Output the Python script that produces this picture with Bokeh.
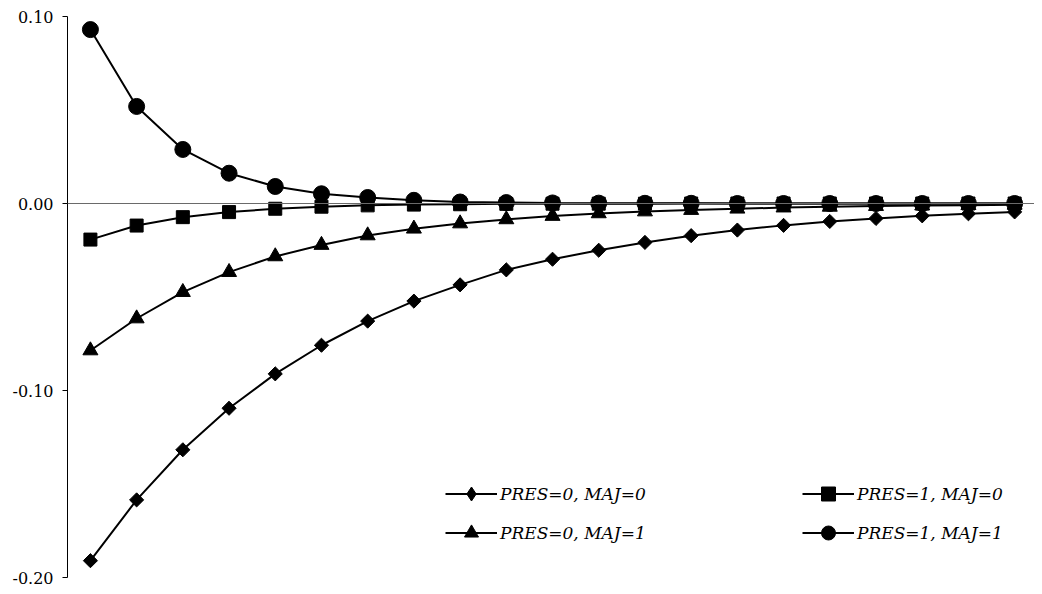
import math
from bokeh.plotting import figure
from bokeh.models import (Range1d, FixedTicker, NumeralTickFormatter,
                          Span, Legend, LegendItem)
from bokeh.embed import file_html
from bokeh.resources import INLINE

periods = list(range(1, 22))
tick_values = [-0.20, -0.10, 0.00, 0.10]

pres0_maj0 = [-0.191, -0.1585, -0.1317, -0.1095, -0.0911, -0.0758, -0.0629, -0.0522,
              -0.0435, -0.0355, -0.0298, -0.0250, -0.0208, -0.0172, -0.0142, -0.0117,
              -0.0096, -0.0080, -0.0066, -0.0055, -0.0045]
pres1_maj0 = [-0.0193, -0.0118, -0.0073, -0.0046, -0.0028, -0.0017, -0.0010, -0.0006,
              -0.0004, -0.0002, -0.0001, -0.0001, -0.0001, 0.0, 0.0, 0.0,
              0.0, 0.0, 0.0, 0.0, 0.0]
pres0_maj1 = [-0.0786, -0.0615, -0.0474, -0.0367, -0.0283, -0.0222, -0.0171, -0.0135,
              -0.0107, -0.0085, -0.0067, -0.0053, -0.0043, -0.0035, -0.0028, -0.0022,
              -0.0018, -0.0014, -0.0011, -0.0009, -0.0007]
pres1_maj1 = [0.093, 0.0519, 0.0289, 0.0162, 0.0091, 0.0052, 0.0032, 0.0017,
              0.0008, 0.0005, 0.0003, 0.0002, 0.0001, 0.0001, 0.0, 0.0,
              0.0, 0.0, 0.0, 0.0, 0.0]

labels = ["PRES=0, MAJ=0", "PRES=1, MAJ=0", "PRES=0, MAJ=1", "PRES=1, MAJ=1"]

FONT = "DejaVu Serif"

p = figure(width=1034, height=586, output_backend="svg", toolbar_location=None,
           x_range=Range1d(0.504, 21.43), y_range=Range1d(-0.20, 0.10),
           min_border_left=67, min_border_right=0, min_border_top=16, min_border_bottom=9,
           x_axis_location=None, y_axis_location="left")
p.outline_line_color = None
p.xgrid.visible = False
p.ygrid.visible = False
p.background_fill_color = "white"
p.border_fill_color = "white"

yaxis = p.yaxis[0]
yaxis.ticker = FixedTicker(ticks=tick_values, minor_ticks=[])
yaxis.formatter = NumeralTickFormatter(format="0.00")
yaxis.axis_line_color = "black"
yaxis.axis_line_width = 1
yaxis.major_tick_line_color = "black"
yaxis.major_tick_line_width = 1
yaxis.major_tick_out = 5
yaxis.major_tick_in = 0
yaxis.minor_tick_line_color = None
yaxis.major_label_text_font = FONT
yaxis.major_label_text_font_size = "16px"
yaxis.major_label_text_color = "black"
yaxis.major_label_standoff = 9

p.add_layout(Span(location=0, dimension="width", line_color="#6a6a6a", line_width=1))

def series(vals, marker, size, angle=0.0):
    ln = p.line(periods, vals, line_color="black", line_width=2)
    sc = p.scatter(periods, vals, marker=marker, size=size, angle=angle,
                   fill_color="black", line_color="black")
    return ln, sc

l00, s00 = series(pres0_maj0, "square", 10, math.pi / 4)
l10, s10 = series(pres1_maj0, "square", 13)
l01, s01 = series(pres0_maj1, "triangle", 15)
l11, s11 = series(pres1_maj1, "circle", 16)

# zero-size diamond glyph on the same data: invisible in the plot, gives the legend swatch
d00 = p.scatter(periods, pres0_maj0, marker="diamond", size=0,
                fill_color="black", line_color="black")

def make_legend(items, x):
    lg = Legend(items=items, location=(x, 27), orientation="vertical",
                border_line_color=None, background_fill_alpha=0,
                padding=0, margin=0, spacing=4,
                glyph_width=52, glyph_height=35, label_standoff=3,
                label_text_font=FONT, label_text_font_style="italic",
                label_text_font_size="17px", label_text_color="black")
    p.add_layout(lg, "center")

make_legend([LegendItem(label=labels[0], renderers=[l00, d00]),
             LegendItem(label=labels[2], renderers=[l01, s01])], 378)
make_legend([LegendItem(label=labels[1], renderers=[l10, s10]),
             LegendItem(label=labels[3], renderers=[l11, s11])], 735)

open("out.html", "w").write(file_html(p, INLINE))
